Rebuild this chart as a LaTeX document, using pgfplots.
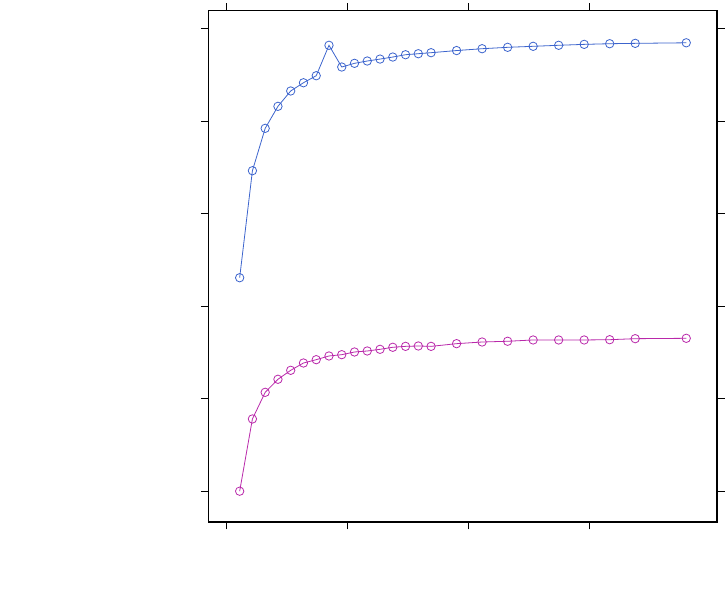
\documentclass[border=0pt]{standalone}
\usepackage{pgfplots}
\pgfplotsset{compat=1.18}
\definecolor{lblue}{RGB}{60,100,205}
\definecolor{lmag}{RGB}{185,40,170}
\begin{document}
\begin{tikzpicture}
\path[use as bounding box] (-208.3bp,-79bp) rectangle (517.7bp,522bp);
\begin{axis}[
  scale only axis,
  width=508.7bp, height=511.3bp,
  xmin=-1.458, xmax=38.41,
  ymin=-0.333, ymax=5.195,
  xtick={0,9.45,18.95,28.45},
  ytick={0,1,2,3,4,5},
  xticklabels={}, yticklabels={},
  tick align=outside,
  major tick length=7.5bp,
  tick style={black, line width=0.9bp},
  axis line style={black, line width=1.1bp},
  every axis plot/.append style={line width=0.8bp, mark size=4.2bp, mark options={line width=0.8bp, fill=none}},
]
\addplot[lblue, mark=o] coordinates {
(1,2.308) (2,3.465) (3,3.923) (4,4.161) (5,4.327) (6,4.416) (7,4.492) (8,4.821)
(9,4.586) (10,4.626) (11,4.651) (12,4.672) (13,4.694) (14,4.719) (15,4.730) (16,4.741)
(18,4.764) (20,4.784) (22,4.799) (24,4.810) (26,4.821) (28,4.831) (30,4.838) (32,4.842) (36,4.848)
};
\addplot[lmag, mark=o] coordinates {
(1,0.000) (2,0.781) (3,1.069) (4,1.210) (5,1.307) (6,1.386) (7,1.422) (8,1.462)
(9,1.476) (10,1.505) (11,1.516) (12,1.534) (13,1.556) (14,1.566) (15,1.570) (16,1.566)
(18,1.595) (20,1.613) (22,1.621) (24,1.635) (26,1.635) (28,1.635) (30,1.638) (32,1.649) (36,1.653)
};
\end{axis}
\end{tikzpicture}
\end{document}
